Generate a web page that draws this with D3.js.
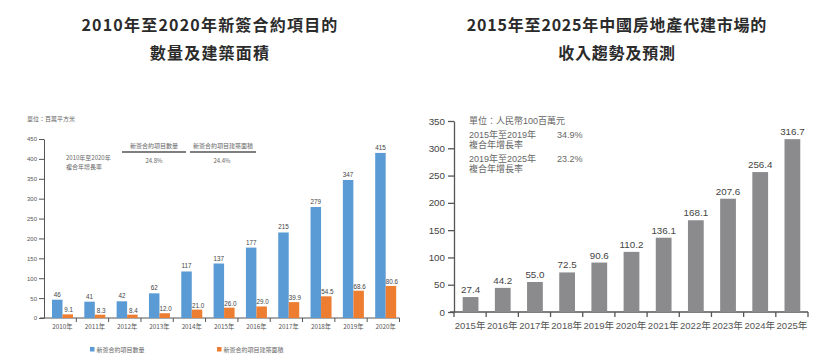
<!DOCTYPE html>
<html><head><meta charset="utf-8">
<script src="https://cdn.jsdelivr.net/npm/d3@7"></script>
<style>
body{margin:0;background:#fff;}
svg{display:block;font-family:"Liberation Sans","Noto Sans CJK TC",sans-serif;}
</style></head>
<body>
<script>
// ---- Left chart data ----
const leftYears = ["2010年","2011年","2012年","2013年","2014年","2015年","2016年","2017年","2018年","2019年","2020年"];
const contractCount = [46,41,42,62,117,137,177,215,279,347,415];
const contractArea = [9.1,8.3,8.4,12.0,21.0,26.0,29.0,39.9,54.5,68.6,80.6];
const areaLabels = ["9.1","8.3","8.4","12.0","21.0","26.0","29.0","39.9","54.5","68.6","80.6"];
const leftTicks = [0,50,100,150,200,250,300,350,400,450];
const leftSeries = ["新簽合約項目數量","新簽合約項目建築面積"];
const leftCagr = ["24.8%","24.4%"];
// ---- Right chart data ----
const rightYears = ["2015年","2016年","2017年","2018年","2019年","2020年","2021年","2022年","2023年","2024年","2025年"];
const revenue = [27.4,44.2,55.0,72.5,90.6,110.2,136.1,168.1,207.6,256.4,316.7];
const revenueLabels = ["27.4","44.2","55.0","72.5","90.6","110.2","136.1","168.1","207.6","256.4","316.7"];
const rightTicks = [0,50,100,150,200,250,300,350];
const rightCagr = [["2015年至2019年","複合年增長率","34.9%"],["2019年至2025年","複合年增長率","23.2%"]];

const W = 831, H = 358;
const svg = d3.select("body").append("svg").attr("width", W).attr("height", H);
const cjk = '"Noto Sans CJK TC","Liberation Sans",sans-serif';
const BLUE = "#5b9bd5", ORANGE = "#ed7d31", GREY = "#8b8b8d", AX = "#555";

// titles
function title(lines, cx, ls) {
  lines.forEach((t, i) => {
    svg.append("text").attr("x", cx).attr("y", 31 + i * 28)
      .attr("text-anchor", "middle").attr("font-family", cjk)
      .attr("font-weight", "bold").attr("font-size", 16)
      .attr("letter-spacing", ls).attr("fill", "#2b2b2b").text(t);
  });
}
title(["2010年至2020年新簽合約項目的", "數量及建築面積"], 210, 1.2);
title(["2015年至2025年中國房地產代建市場的", "收入趨勢及預測"], 617, 0.8);

// ---------- LEFT CHART ----------
const gL = svg.append("g");
const xL = d3.scaleBand().domain(leftYears).range([44, 399.5]);
const yL = d3.scaleLinear().domain([0, 450]).range([318, 139]);
const sub = d3.scaleBand().domain(leftSeries).range([8, 29]);

gL.append("g").attr("transform", "translate(44,0)")
  .call(d3.axisLeft(yL).tickValues(leftTicks).tickSize(5).tickSizeOuter(0).tickPadding(2))
  .call(g => { g.select(".domain").attr("stroke", AX);
    g.selectAll(".tick line").attr("stroke", AX);
    g.selectAll("text").attr("font-size", 6).attr("fill", "#555"); });

// x axis line and ticks
gL.append("line").attr("x1", 40).attr("x2", xL.range()[1]).attr("y1", yL(0)).attr("y2", yL(0)).attr("stroke", AX);
gL.selectAll(".xt").data(leftYears.slice(1).concat(["end"])).enter().append("line")
  .attr("x1", (d, i) => xL(leftYears[0]) + (i + 1) * xL.step())
  .attr("x2", (d, i) => xL(leftYears[0]) + (i + 1) * xL.step())
  .attr("y1", yL(0)).attr("y2", yL(0) + 4).attr("stroke", AX);

gL.selectAll(".bb").data(contractCount).enter().append("rect")
  .attr("x", (d, i) => xL(leftYears[i]) + sub(leftSeries[0])).attr("width", sub.bandwidth())
  .attr("y", d => yL(d)).attr("height", d => yL(0) - yL(d)).attr("fill", BLUE);
gL.selectAll(".ob").data(contractArea).enter().append("rect")
  .attr("x", (d, i) => xL(leftYears[i]) + sub(leftSeries[1])).attr("width", sub.bandwidth())
  .attr("y", d => yL(d)).attr("height", d => yL(0) - yL(d)).attr("fill", ORANGE);

gL.selectAll(".bl").data(contractCount).enter().append("text")
  .attr("x", (d, i) => xL(leftYears[i]) + sub(leftSeries[0]) + sub.bandwidth() / 2)
  .attr("y", d => yL(d) - 3).attr("text-anchor", "middle").attr("font-size", 6.3).attr("fill", "#444").text(d => d);
gL.selectAll(".ol").data(contractArea).enter().append("text")
  .attr("x", (d, i) => xL(leftYears[i]) + sub(leftSeries[1]) + sub.bandwidth() / 2 + 1)
  .attr("y", d => yL(d) - 2).attr("text-anchor", "middle").attr("font-size", 6.3).attr("fill", "#444")
  .text((d, i) => areaLabels[i]);

gL.selectAll(".yl").data(leftYears).enter().append("text")
  .attr("x", d => xL(d) + sub(leftSeries[1]))
  .attr("y", 329).attr("text-anchor", "middle").attr("font-size", 6.3).attr("font-family", cjk)
  .attr("fill", "#555").text(d => d);

// left annotations
const smallL = (x, y, t, anchor) => gL.append("text").attr("x", x).attr("y", y).attr("font-size", 6)
  .attr("font-family", cjk).attr("fill", "#666").attr("text-anchor", anchor || "start").text(t);
smallL(27, 121, "單位：百萬平方米");
smallL(66, 160, "2010年至2020年");
smallL(66, 169, "複合年增長率");
smallL(154, 148, leftSeries[0], "middle");
smallL(223, 148, leftSeries[1], "middle");
gL.append("line").attr("x1", 122).attr("x2", 186).attr("y1", 152).attr("y2", 152).attr("stroke", "#555").attr("stroke-width", 1.6);
gL.append("line").attr("x1", 190).attr("x2", 256).attr("y1", 152).attr("y2", 152).attr("stroke", "#555").attr("stroke-width", 1.6);
smallL(154, 163, leftCagr[0], "middle");
smallL(222, 163, leftCagr[1], "middle");

// legend
[[90, BLUE, leftSeries[0]], [217, ORANGE, leftSeries[1]]].forEach(([x, c, t]) => {
  gL.append("rect").attr("x", x).attr("y", 347).attr("width", 4.5).attr("height", 4.5).attr("fill", c);
  smallL(x + 6.5, 351.5, t);
});

// ---------- RIGHT CHART ----------
const gR = svg.append("g");
const xR = d3.scaleBand().domain(rightYears).range([454, 808]);
const yR = d3.scaleLinear().domain([0, 350]).range([312, 121]);

gR.append("g").attr("transform", "translate(454,0)")
  .call(d3.axisLeft(yR).tickValues(rightTicks).tickSize(6).tickSizeOuter(0).tickPadding(3))
  .call(g => { g.select(".domain").attr("stroke", AX).attr("stroke-width", 1.3);
    g.selectAll(".tick line").attr("stroke", AX).attr("stroke-width", 1.3);
    g.selectAll("text").attr("font-size", 9.8).attr("fill", "#444"); });
gR.append("line").attr("x1", 450).attr("x2", xR.range()[1]).attr("y1", yR(0)).attr("y2", yR(0)).attr("stroke", AX).attr("stroke-width", 1.3);
gR.selectAll(".xt").data(d3.range(rightYears.length + 1)).enter().append("line")
  .attr("x1", i => xR(rightYears[0]) + i * xR.step()).attr("x2", i => xR(rightYears[0]) + i * xR.step())
  .attr("y1", yR(0)).attr("y2", yR(0) + 5).attr("stroke", AX).attr("stroke-width", 1.3);

gR.selectAll(".rb").data(revenue).enter().append("rect")
  .attr("x", (d, i) => xR(rightYears[i]) + xR.step() * 0.27).attr("width", xR.step() * 0.49)
  .attr("y", d => yR(d)).attr("height", d => yR(0) - yR(d)).attr("fill", GREY);
gR.selectAll(".rl").data(revenue).enter().append("text")
  .attr("x", (d, i) => xR(rightYears[i]) + xR.step() * 0.515).attr("y", d => yR(d) - 4)
  .attr("text-anchor", "middle").attr("font-size", 9.8).attr("fill", "#444").text((d, i) => revenueLabels[i]);
gR.selectAll(".ry").data(rightYears).enter().append("text")
  .attr("x", d => xR(d) + xR.step() / 2).attr("y", 329).attr("text-anchor", "middle")
  .attr("font-size", 9.5).attr("fill", "#555").text(d => d);

const smallR = (x, y, t) => gR.append("text").attr("x", x).attr("y", y).attr("font-size", 9)
  .attr("fill", "#666").text(t);
smallR(469, 124, "單位：人民幣100百萬元");
rightCagr.forEach((r, i) => {
  smallR(469, 138 + i * 24, r[0]);
  smallR(469, 148 + i * 24, r[1]);
  smallR(557, 138 + i * 24, r[2]);
});
</script>
</body></html>
